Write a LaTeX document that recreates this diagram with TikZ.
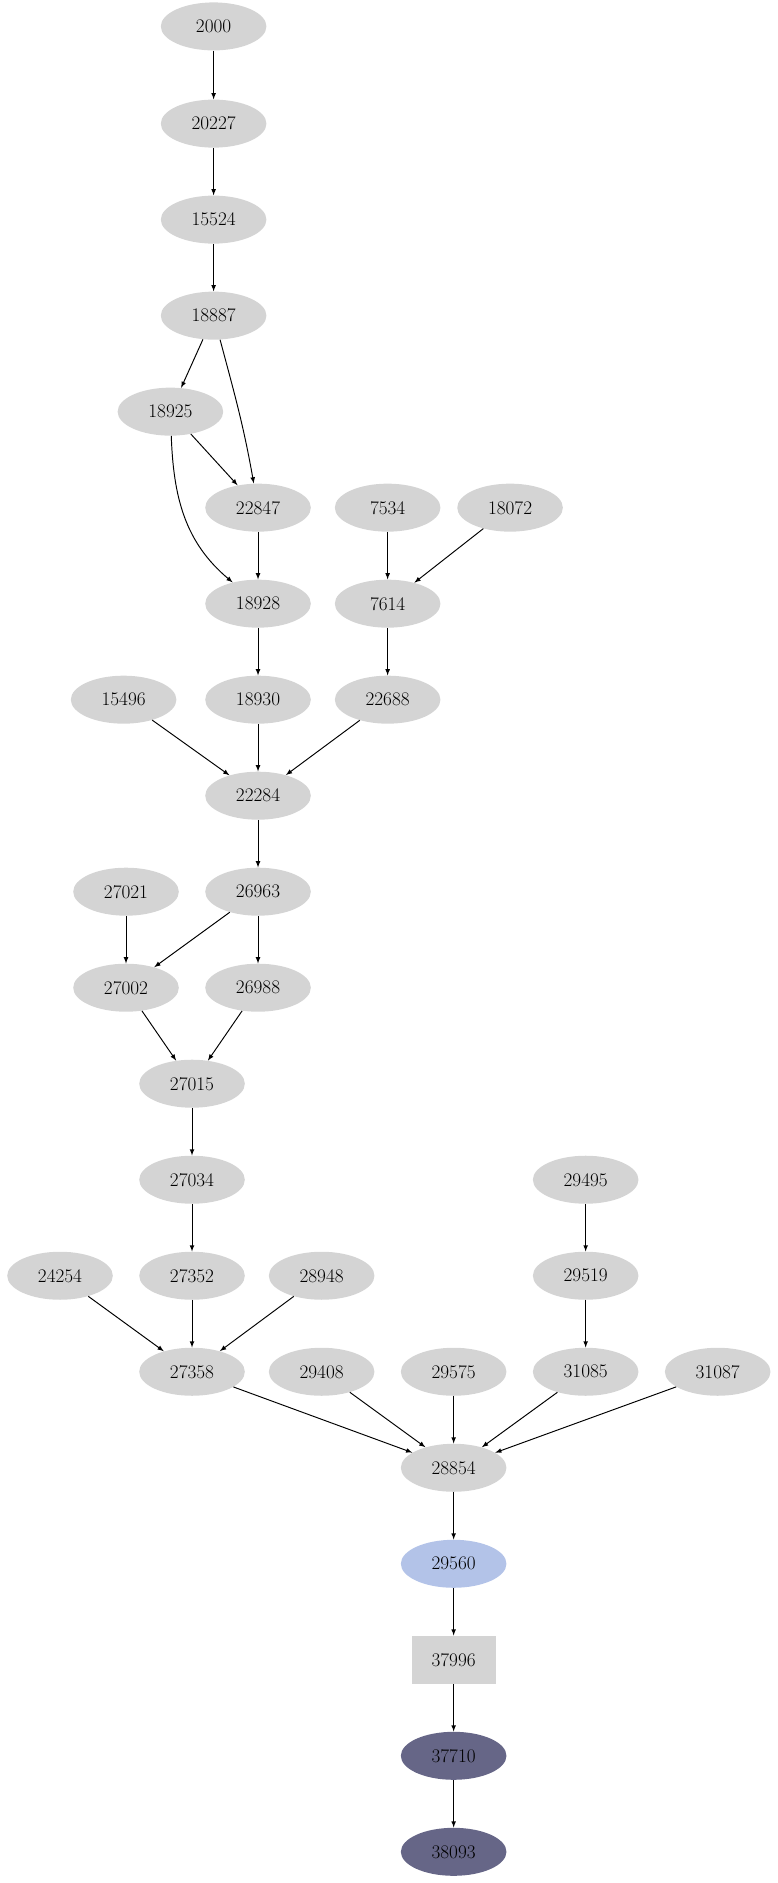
\documentclass[tikz,border=0pt]{standalone}
\usetikzlibrary{shapes.geometric}
\begin{document}
\begin{tikzpicture}[x=1pt,y=-1pt,
    nd/.style={ellipse,fill=black!17,minimum width=88pt,minimum height=40pt,inner sep=0pt,font=\fontsize{16}{19}\selectfont},
    hl/.style={nd,fill=cyan!45!blue!30!white},
    dk/.style={nd,fill=black!35!blue!20!gray},
    bx/.style={rectangle,fill=black!17,minimum width=70pt,minimum height=40pt,font=\fontsize{16}{19}\selectfont},
    edge/.style={-latex,line width=0.8pt}]
    \useasboundingbox (0,0) rectangle (648,1569);
    \node[nd] (n2000) at (178,22) {2000};
    \node[nd] (n20227) at (178,103) {20227};
    \node[nd] (n15524) at (178,183) {15524};
    \node[nd] (n18887) at (178,263) {18887};
    \node[nd] (n18925) at (142,343) {18925};
    \node[nd] (n22847) at (215,423) {22847};
    \node[nd] (n7534) at (323,423) {7534};
    \node[nd] (n18072) at (425,423) {18072};
    \node[nd] (n18928) at (215,503) {18928};
    \node[nd] (n7614) at (323,503) {7614};
    \node[nd] (n15496) at (103,583) {15496};
    \node[nd] (n18930) at (215,583) {18930};
    \node[nd] (n22688) at (323,583) {22688};
    \node[nd] (n22284) at (215,663) {22284};
    \node[nd] (n27021) at (105,743) {27021};
    \node[nd] (n26963) at (215,743) {26963};
    \node[nd] (n27002) at (105,823) {27002};
    \node[nd] (n26988) at (215,823) {26988};
    \node[nd] (n27015) at (160,903) {27015};
    \node[nd] (n27034) at (160,983) {27034};
    \node[nd] (n29495) at (488,983) {29495};
    \node[nd] (n24254) at (50,1063) {24254};
    \node[nd] (n27352) at (160,1063) {27352};
    \node[nd] (n28948) at (268,1063) {28948};
    \node[nd] (n29519) at (488,1063) {29519};
    \node[nd] (n27358) at (160,1143) {27358};
    \node[nd] (n29408) at (268,1143) {29408};
    \node[nd] (n29575) at (378,1143) {29575};
    \node[nd] (n31085) at (488,1143) {31085};
    \node[nd] (n31087) at (598,1143) {31087};
    \node[nd] (n28854) at (378,1223) {28854};
    \node[hl] (n29560) at (378,1303) {29560};
    \node[bx] (n37996) at (378,1383) {37996};
    \node[dk] (n37710) at (378,1463) {37710};
    \node[dk] (n38093) at (378,1543) {38093};
    % edges
    \draw[edge] (n2000) -- (n20227);
    \draw[edge] (n20227) -- (n15524);
    \draw[edge] (n15524) -- (n18887);
    \draw[edge] (n18887) -- (n18925);
    \draw[edge] (n18887) to[out=-75,in=100] (n22847);
    \draw[edge] (n18925) -- (n22847);
    \draw[edge] (n18925) to[out=-88,in=140] (n18928);
    \draw[edge] (n22847) -- (n18928);
    \draw[edge] (n7534) -- (n7614);
    \draw[edge] (n18072) -- (n7614);
    \draw[edge] (n18928) -- (n18930);
    \draw[edge] (n7614) -- (n22688);
    \draw[edge] (n15496) -- (n22284);
    \draw[edge] (n18930) -- (n22284);
    \draw[edge] (n22688) -- (n22284);
    \draw[edge] (n22284) -- (n26963);
    \draw[edge] (n27021) -- (n27002);
    \draw[edge] (n26963) -- (n27002);
    \draw[edge] (n26963) -- (n26988);
    \draw[edge] (n27002) -- (n27015);
    \draw[edge] (n26988) -- (n27015);
    \draw[edge] (n27015) -- (n27034);
    \draw[edge] (n27034) -- (n27352);
    \draw[edge] (n29495) -- (n29519);
    \draw[edge] (n24254) -- (n27358);
    \draw[edge] (n27352) -- (n27358);
    \draw[edge] (n28948) -- (n27358);
    \draw[edge] (n29519) -- (n31085);
    \draw[edge] (n27358) -- (n28854);
    \draw[edge] (n29408) -- (n28854);
    \draw[edge] (n29575) -- (n28854);
    \draw[edge] (n31085) -- (n28854);
    \draw[edge] (n31087) -- (n28854);
    \draw[edge] (n28854) -- (n29560);
    \draw[edge] (n29560) -- (n37996);
    \draw[edge] (n37996) -- (n37710);
    \draw[edge] (n37710) -- (n38093);
\end{tikzpicture}
\end{document}
